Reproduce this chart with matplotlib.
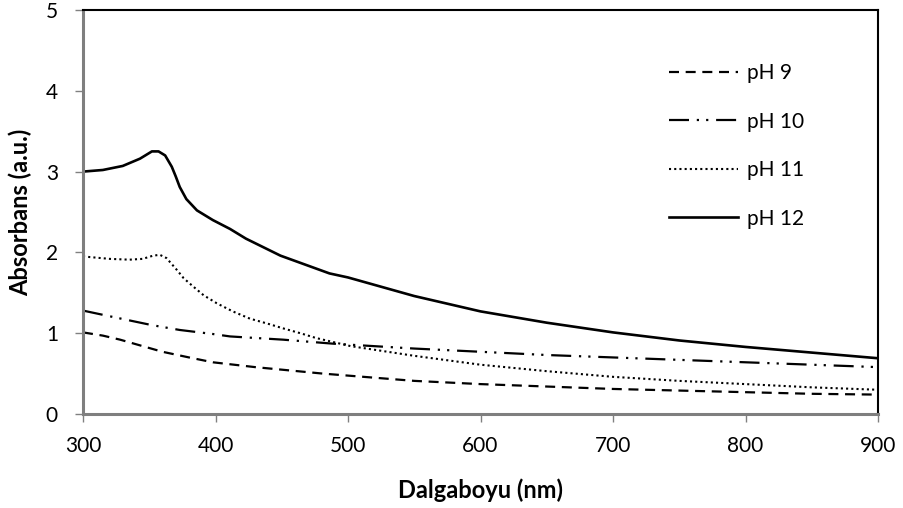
import matplotlib
matplotlib.use("Agg")
import matplotlib.pyplot as plt

plt.rcParams['font.family'] = ['Lato', 'DejaVu Sans']

x12 = [300, 315, 330, 343, 352, 357, 362, 367, 370, 373, 378, 386, 398, 411, 423, 449, 486, 500, 550, 600, 650, 700, 750, 800, 850, 900]
y12 = [3.00, 3.02, 3.07, 3.16, 3.25, 3.25, 3.20, 3.06, 2.94, 2.81, 2.66, 2.52, 2.40, 2.29, 2.17, 1.96, 1.74, 1.69, 1.46, 1.27, 1.13, 1.01, 0.91, 0.83, 0.76, 0.69]

x11 = [300, 320, 335, 345, 353, 358, 363, 371, 376, 383, 391, 401, 413, 426, 439, 451, 464, 476, 489, 502, 550, 600, 650, 700, 750, 800, 850, 900]
y11 = [1.95, 1.92, 1.91, 1.92, 1.96, 1.97, 1.93, 1.78, 1.68, 1.58, 1.47, 1.37, 1.27, 1.18, 1.12, 1.06, 1.00, 0.94, 0.89, 0.84, 0.72, 0.61, 0.53, 0.46, 0.41, 0.37, 0.33, 0.30]

x10 = [300, 320, 352, 373, 398, 411, 451, 489, 550, 600, 650, 700, 750, 800, 850, 900]
y10 = [1.28, 1.21, 1.10, 1.04, 0.99, 0.96, 0.92, 0.87, 0.81, 0.77, 0.73, 0.70, 0.67, 0.64, 0.61, 0.58]

x9 = [300, 315, 328, 345, 360, 380, 398, 430, 481, 550, 600, 650, 700, 750, 800, 850, 900]
y9 = [1.01, 0.97, 0.92, 0.84, 0.77, 0.70, 0.64, 0.58, 0.50, 0.41, 0.37, 0.34, 0.31, 0.29, 0.27, 0.25, 0.24]

labels = ['pH 9', 'pH 10', 'pH 11', 'pH 12']
xticks = [300, 400, 500, 600, 700, 800, 900]
yticks = [0, 1, 2, 3, 4, 5]

fig = plt.figure(figsize=(9.04, 5.08), dpi=100)
ax = fig.add_axes([83/904, 1-414/508, (878-83)/904, (414-10)/508])

ax.plot(x9, y9, color='black', lw=1.6, linestyle=(0, (4.5, 3.0)), label=labels[0])
ax.plot(x10, y10, color='black', lw=1.6, linestyle=(0, (9, 3.5, 1, 3.2, 1, 3.5)), label=labels[1])
ax.plot(x11, y11, color='black', lw=1.5, linestyle=(0, (1.0, 1.5)), label=labels[2])
ax.plot(x12, y12, color='black', lw=1.9, linestyle='-', label=labels[3])

ax.set_xlim(300, 900)
ax.set_ylim(0, 5)
ax.set_xticks(xticks)
ax.set_yticks(yticks)
ax.tick_params(axis='both', labelsize=15, length=6, width=1, color='#808080', direction='out')
ax.tick_params(axis='x', pad=10)
ax.tick_params(axis='y', pad=12)

for s in ['top', 'right']:
    ax.spines[s].set_color('black')
    ax.spines[s].set_linewidth(1.5)
for s in ['left', 'bottom']:
    ax.spines[s].set_color('#7f7f7f')
    ax.spines[s].set_linewidth(2.2)

ax.set_xlabel('Dalgaboyu (nm)', fontsize=17, fontweight='bold', labelpad=16)
ax.set_ylabel('Absorbans (a.u.)', fontsize=17, fontweight='bold', labelpad=10)

leg = ax.legend(loc='upper left', bbox_to_anchor=(0.714, 0.915), frameon=False, fontsize=15,
                handlelength=3.3, handletextpad=0.43, labelspacing=1.37)

fig.savefig('out.png', dpi=100)
